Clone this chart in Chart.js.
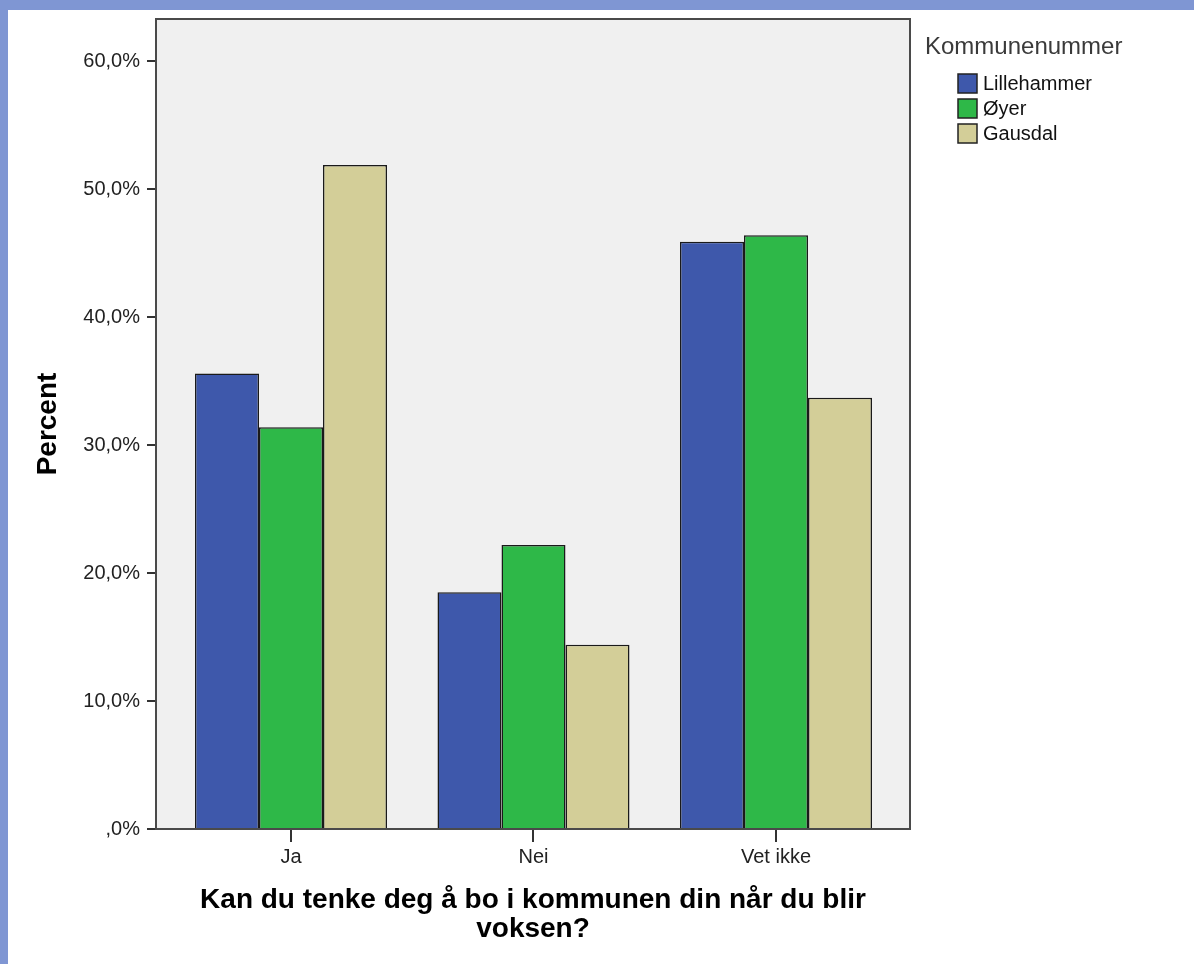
<!DOCTYPE html>
<html>
<head>
<meta charset="utf-8">
<script src="https://cdn.jsdelivr.net/npm/chart.js@4.4.1/dist/chart.umd.min.js"></script>
<style>
  html, body { margin: 0; padding: 0; background: #7f96d3; }
  #wrap { position: absolute; left: 8px; top: 10px; width: 1186px; height: 954px; background: #ffffff; }
  canvas { display: block; }
</style>
</head>
<body>
<div id="wrap"><canvas id="c" width="1186" height="954"></canvas></div>
<script>
const categories = ['Ja', 'Nei', 'Vet ikke'];
const seriesNames = ['Lillehammer', 'Øyer', 'Gausdal'];
const lillehammer = [35.6, 18.5, 45.9];
const oyer = [31.4, 22.2, 46.4];
const gausdal = [51.9, 14.4, 33.7];
const yTicks = [0, 10, 20, 30, 40, 50, 60];
const yTickLabels = [',0%', '10,0%', '20,0%', '30,0%', '40,0%', '50,0%', '60,0%'];
const colors = ['#3e58ab', '#2eb848', '#d3ce98'];
const legendTitle = 'Kommunenummer';
const xTitle = ['Kan du tenke deg å bo i kommunen din når du blir', 'voksen?'];
const yTitle = 'Percent';

const seriesValues = [lillehammer, oyer, gausdal];

const bgPlugin = {
  id: 'bg',
  beforeDraw(chart) {
    const {ctx, chartArea: a} = chart;
    ctx.save();
    ctx.fillStyle = '#ffffff';
    ctx.fillRect(0, 0, chart.width, chart.height);
    ctx.fillStyle = '#f0f0f0';
    ctx.fillRect(a.left, a.top, a.right - a.left, a.bottom - a.top);
    ctx.restore();
  },
  afterDatasetsDraw(chart) {
    const {ctx, chartArea: a} = chart;
    ctx.save();
    ctx.strokeStyle = '#4a4a4a';
    ctx.lineWidth = 2;
    ctx.strokeRect(a.left, a.top, a.right - a.left, a.bottom - a.top);
    ctx.restore();
  }
};

const legendPlugin = {
  id: 'customLegend',
  afterDraw(chart) {
    const ctx = chart.ctx;
    ctx.save();
    ctx.fillStyle = '#3a3a3a';
    ctx.font = '24px "Liberation Sans", Arial, sans-serif';
    ctx.textBaseline = 'alphabetic';
    ctx.textAlign = 'left';
    ctx.fillText(legendTitle, 917, 44);
    ctx.font = '20px "Liberation Sans", Arial, sans-serif';
    ctx.textBaseline = 'middle';
    chart.data.datasets.forEach((ds, i) => {
      const y = 64 + i * 25;
      ctx.fillStyle = ds.backgroundColor;
      ctx.fillRect(950, y, 19, 19);
      ctx.strokeStyle = '#222222';
      ctx.lineWidth = 1.5;
      ctx.strokeRect(950, y, 19, 19);
      ctx.fillStyle = '#111111';
      ctx.fillText(ds.label, 975, y + 10);
    });
    ctx.restore();
  }
};

const datasets = seriesNames.map((name, s) => ({
  label: name,
  data: seriesValues[s].map((v, i) => ({x: i, y: v})),
  backgroundColor: colors[s],
  borderColor: '#1a1a1a',
  borderWidth: 1.5,
  categoryPercentage: 0.7918,
  barPercentage: 1.0
}));

new Chart(document.getElementById('c'), {
  type: 'bar',
  data: { datasets },
  options: {
    responsive: false,
    animation: false,
    devicePixelRatio: 1,
    layout: { padding: { top: 9, right: 284, left: 0, bottom: 0 } },
    plugins: {
      legend: { display: false },
      tooltip: { enabled: false },
      title: { display: false }
    },
    scales: {
      x: {
        type: 'linear',
        min: -0.5567,
        max: 2.5526,
        offset: false,
        border: { display: false },
        grid: { display: true, offset: false, drawOnChartArea: false, drawTicks: true, tickLength: 13, color: '#333333', lineWidth: 2 },
        ticks: {
          stepSize: 1,
          includeBounds: false,
          autoSkip: false,
          maxRotation: 0,
          padding: 3,
          color: '#222222',
          font: { family: '"Liberation Sans", Arial, sans-serif', size: 20 },
          callback: (v) => categories[v] !== undefined ? categories[v] : ''
        },
        title: {
          display: true,
          text: xTitle,
          color: '#000000',
          font: { family: '"Liberation Sans", Arial, sans-serif', size: 28, weight: 'bold', lineHeight: 1.05 },
          padding: { top: 0, bottom: 20 }
        },
        afterFit(scale) { scale.height = 135; scale.paddingLeft = 0; scale.paddingRight = 0; }
      },
      y: {
        min: 0,
        max: 63.3,
        border: { display: false },
        grid: { display: true, drawOnChartArea: false, drawTicks: true, tickLength: 9, color: '#333333', lineWidth: 2 },
        ticks: {
          stepSize: 10,
          includeBounds: false,
          padding: 7,
          color: '#222222',
          font: { family: '"Liberation Sans", Arial, sans-serif', size: 20 },
          callback: (v) => { const k = yTicks.indexOf(v); return k >= 0 ? yTickLabels[k] : ''; }
        },
        title: {
          display: true,
          text: yTitle,
          color: '#000000',
          font: { family: '"Liberation Sans", Arial, sans-serif', size: 28, weight: 'bold', lineHeight: 1.2 },
          padding: { top: 23, bottom: 0 }
        },
        afterFit(scale) { scale.width = 148; scale.paddingTop = 0; scale.paddingBottom = 0; }
      }
    }
  },
  plugins: [bgPlugin, legendPlugin]
});
</script>
</body>
</html>
